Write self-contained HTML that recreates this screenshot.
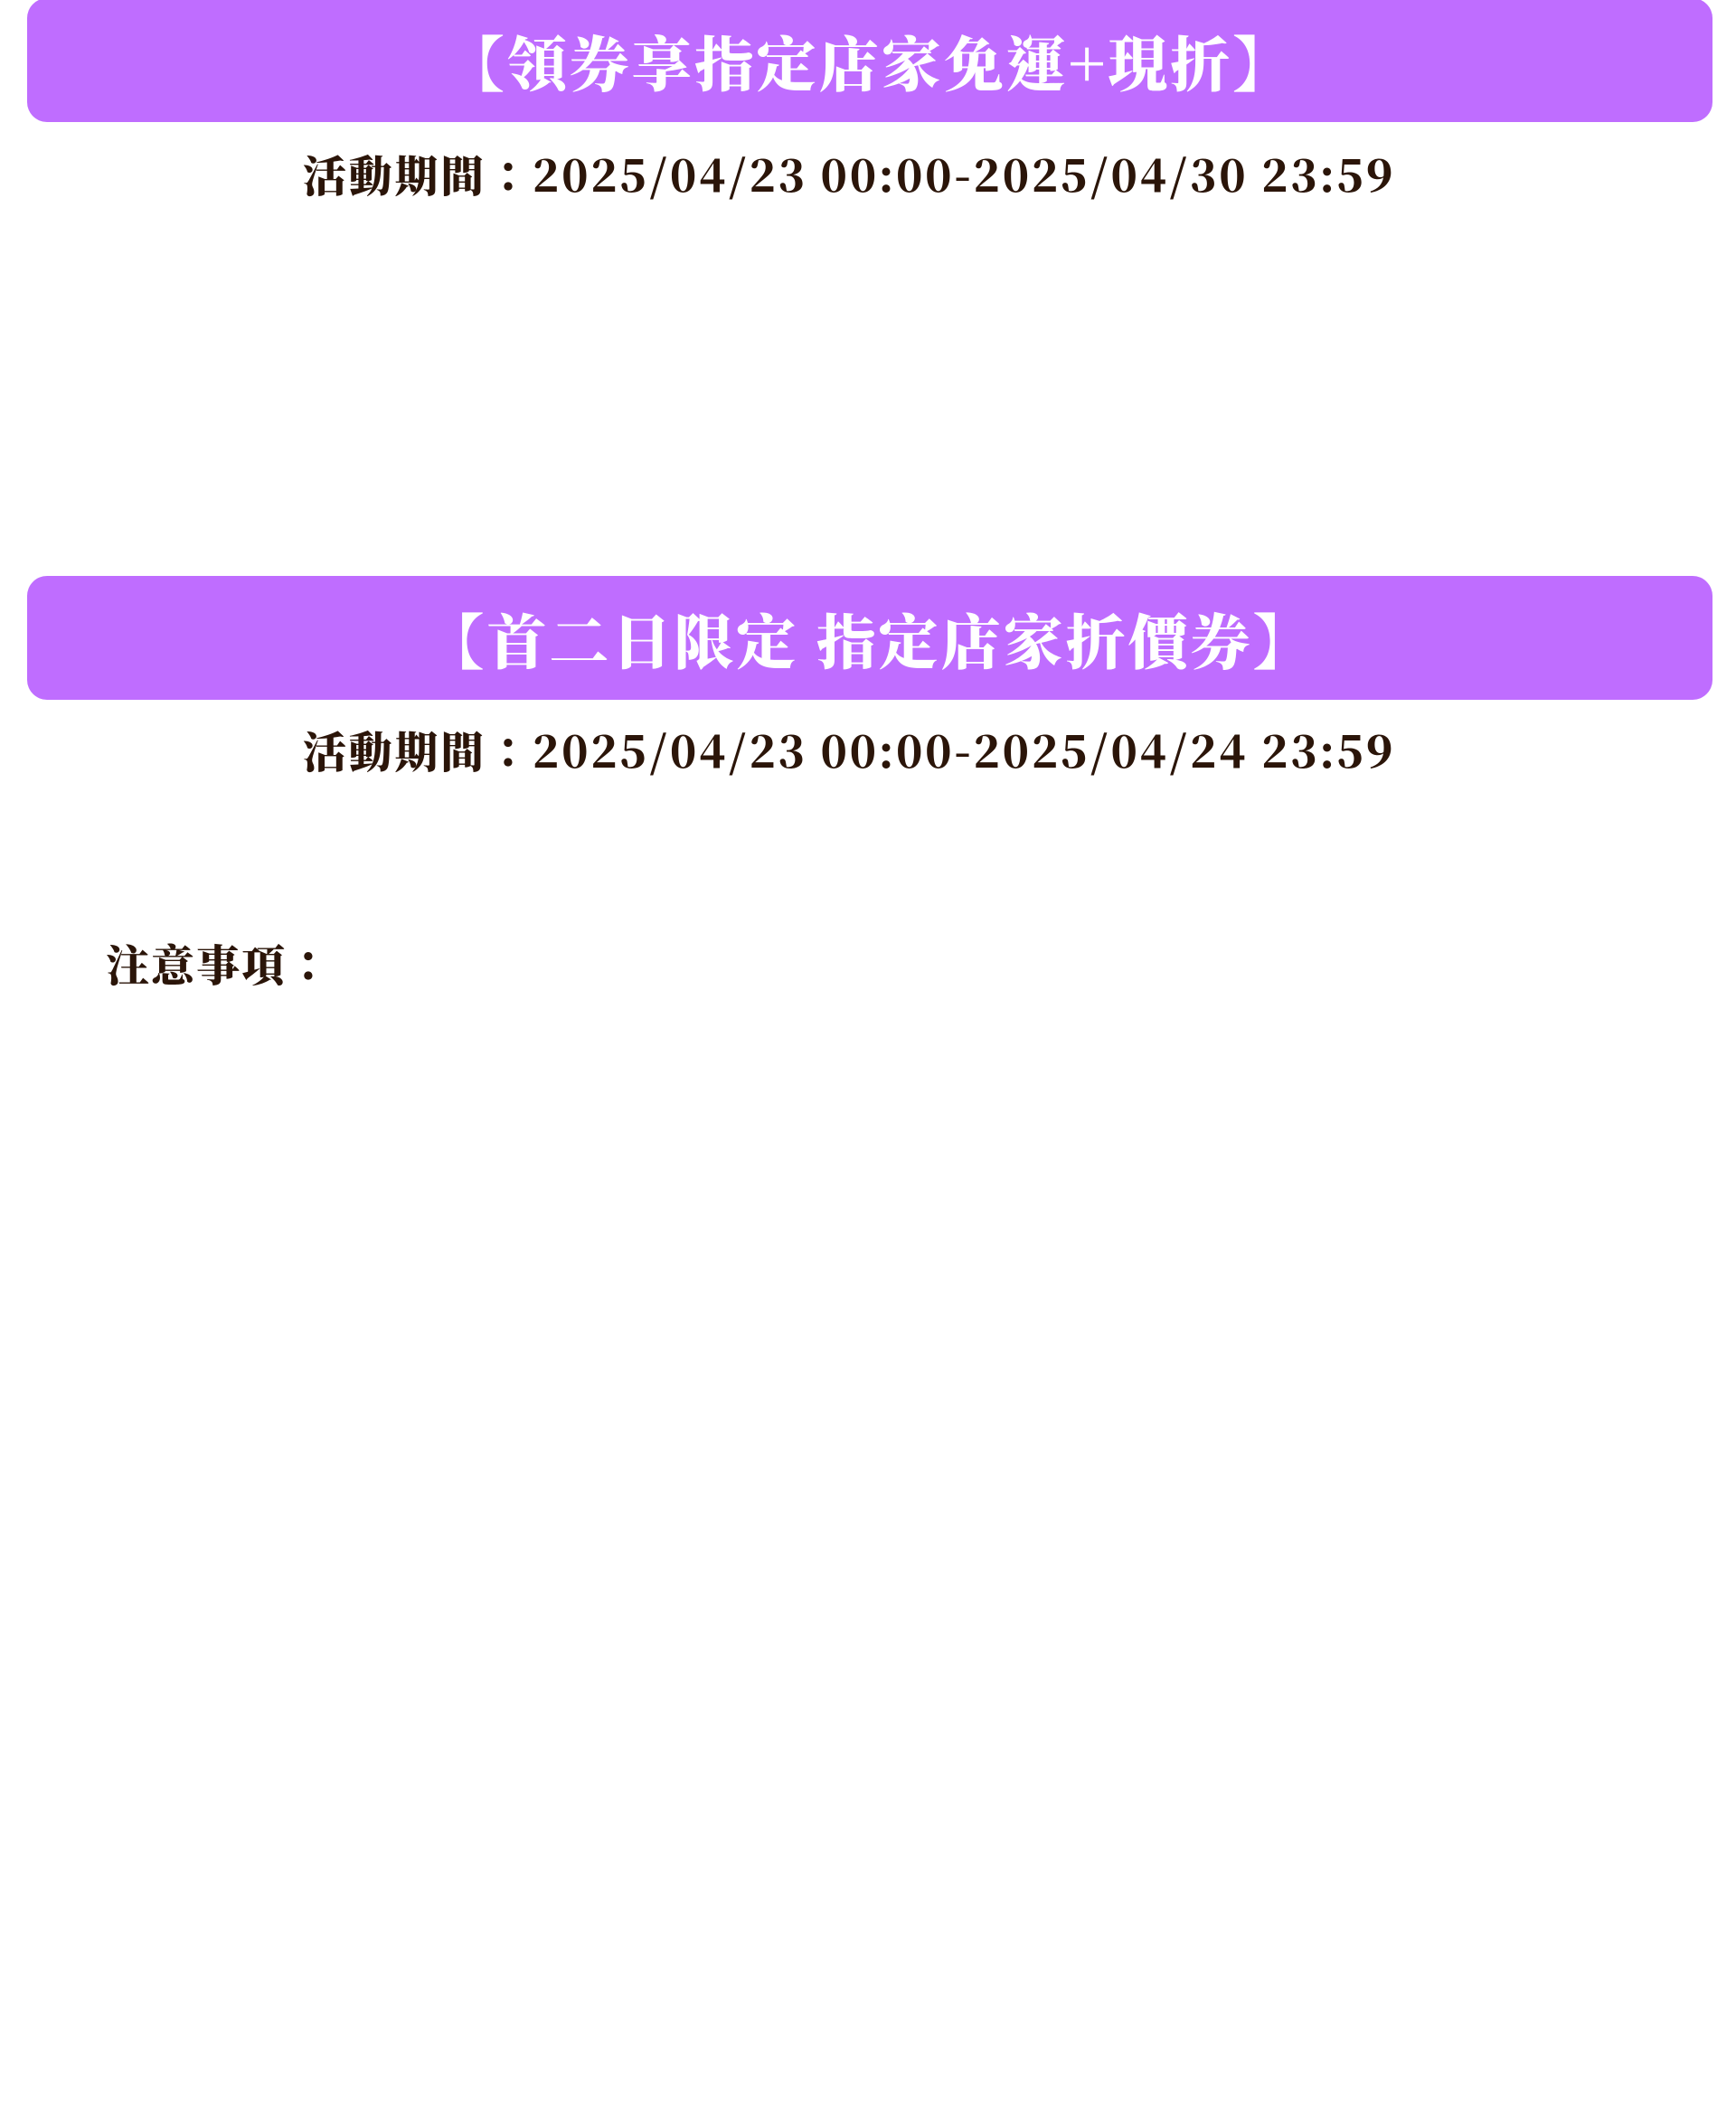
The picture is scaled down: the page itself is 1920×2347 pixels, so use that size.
<!DOCTYPE html>
<html><head><meta charset="utf-8"><style>
html,body{margin:0;padding:0;background:#fff;width:1920px;height:2347px;overflow:hidden;position:relative}
.bn{position:absolute;left:30px;width:1864px;height:137px;background:#bf6dff;border-radius:22px;color:#fff;text-align:center;font-family:"Noto Serif CJK TC","Noto Serif CJK SC",serif;font-weight:900;font-size:66px;line-height:137px;letter-spacing:3px}
.dt{position:absolute;left:0;width:1920px;text-align:center;font-family:"Noto Serif CJK TC","Noto Serif CJK SC",serif;font-weight:900;font-size:48px;color:#2b1509;letter-spacing:2.8px;white-space:nowrap}
.nt{position:absolute;left:117px;font-family:"Noto Serif CJK TC","Noto Serif CJK SC",serif;font-weight:900;font-size:48px;color:#2b1509;letter-spacing:2px}
</style></head><body>
<div class="bn" style="top:-2px">【領券享指定店家免運+現折】</div>
<div class="dt" style="top:157px;left:-21px">活動期間：2025/04/23 00:00-2025/04/30 23:59</div>
<div class="bn" style="top:637px">【首二日限定 指定店家折價券】</div>
<div class="dt" style="top:794px;left:-21px">活動期間：2025/04/23 00:00-2025/04/24 23:59</div>
<div class="nt" style="top:1030px">注意事項：</div>
</body></html>
